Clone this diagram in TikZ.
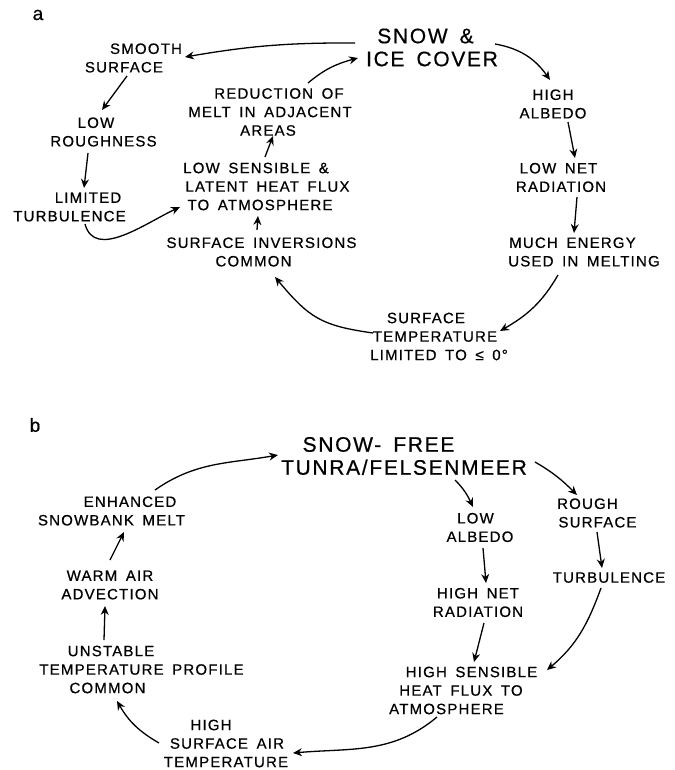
\documentclass[tikz,border=0pt]{standalone}
\usepackage{fontspec}
\setmainfont{Liberation Sans}[LetterSpace=8,WordSpace=1.6,FakeBold=0.6]
\usetikzlibrary{arrows.meta,calc}
\newcommand\sline[2]{\makebox[0pt]{\hspace*{#1}\hspace*{#1}#2}}
\tikzset{
  lbl/.style={font=\fontsize{15}{18.5}\selectfont, align=center, inner sep=0pt},
  big/.style={font=\fontsize{21}{23}\selectfont, align=center, inner sep=0pt},
  panel/.style={font=\fontsize{19}{22}\selectfont, inner sep=0pt},
  arr/.style={-{Stealth[length=9pt,width=8pt,inset=3pt]}, line width=1.3pt},
}
\begin{document}
\begin{tikzpicture}[x=1pt,y=-1pt]
\useasboundingbox (0,0) rectangle (674,770);
% ---------- panel a ----------
\node[panel] (la) at (38,15) {a};
\node[big] (snowice) at (429,47.5) {\sline{-3.5pt}{SNOW \&}\\\sline{3pt}{ICE COVER}};
\node[lbl] (smooth) at (135,58) {\sline{11pt}{SMOOTH}\\\sline{-11pt}{SURFACE}};
\node[lbl] (lowrough) at (101,132) {\sline{-5pt}{LOW}\\\sline{2.5pt}{ROUGHNESS}};
\node[lbl] (limited) at (79,207) {\sline{9pt}{LIMITED}\\\sline{-9.5pt}{TURBULENCE}};
\node[lbl] (reduction) at (271,112) {\sline{8pt}{REDUCTION OF}\\\sline{-1pt}{MELT IN ADJACENT}\\\sline{-3pt}{AREAS}};
\node[lbl] (lowsens) at (261,186.5) {\sline{-5pt}{LOW SENSIBLE \&}\\\sline{6.5pt}{LATENT HEAT FLUX}\\\sline{-1pt}{TO ATMOSPHERE}};
\node[lbl] (inversions) at (258,252) {\sline{3.5pt}{SURFACE INVERSIONS}\\\sline{-4.5pt}{COMMON}};
\node[lbl] (highalb) at (553,104) {HIGH\\ALBEDO};
\node[lbl] (lownet) at (560,177.5) {\sline{-1.5pt}{LOW NET}\\\sline{1pt}{RADIATION}};
\node[lbl] (much) at (578,252) {\sline{-5.5pt}{MUCH ENERGY}\\\sline{6pt}{USED IN MELTING}};
\node[lbl] (surftemp) at (433,336.5) {\sline{-7pt}{SURFACE}\\\sline{2pt}{TEMPERATURE}\\\sline{6pt}{LIMITED TO ≤ 0°}};

\draw[arr] ($(snowice)+(-74,-4.5)$) to[bend right=5] ($(smooth)+(50,-1)$);
\draw[arr] ($(reduction)+(37,-29)$) to[out=40,in=195] ($(snowice)+(-71,10.5)$);
\draw[arr] ($(snowice)+(66,-3.5)$) to[out=-10,in=125] ($(highalb)+(-3,-24)$);
\draw[arr] ($(highalb)+(15,18)$) -- ($(lownet)+(15,-19.5)$);
\draw[arr] ($(lownet)+(17,19.5)$) -- ($(much)+(-4,-19)$);
\draw[arr] ($(much)+(-20,23)$) to[out=240,in=30] ($(surftemp)+(67,-5.5)$);
\draw[arr] ($(surftemp)+(-60,-3.5)$) to[out=172,in=-50,looseness=1.2] ($(inversions)+(17,25)$);
\draw[arr] ($(inversions)+(-1,-22)$) -- ($(lowsens)+(-3,29.5)$);
\draw[arr] ($(lowsens)+(4,-29.5)$) -- ($(reduction)+(2,24)$);
\draw[arr] ($(smooth)+(-8,18)$) -- ($(lowrough)+(1,-22)$);
\draw[arr] ($(lowrough)+(-13,21)$) -- ($(limited)+(5,-19)$);
\draw[arr] ($(limited)+(6,17)$) to[out=-75,in=205] ($(lowsens)+(-81,20.5)$);

% ---------- panel b ----------
\node[panel] (lb) at (35,425) {b};
\node[big] (snowfree) at (392,456) {\sline{-13.5pt}{SNOW- FREE}\\\sline{12pt}{TUNRA/FELSENMEER}};
\node[lbl] (lowalb) at (478,527.5) {\sline{-2.5pt}{LOW}\\\sline{2pt}{ALBEDO}};
\node[lbl] (rough) at (593,513) {\sline{-5.5pt}{ROUGH}\\\sline{4.5pt}{SURFACE}};
\node[lbl] (turb) at (609,577.5) {TURBULENCE};
\node[lbl] (highnet) at (478,602.5) {HIGH NET\\RADIATION};
\node[lbl] (highsens) at (460,690.5) {\sline{11.5pt}{HIGH SENSIBLE}\\\sline{1pt}{HEAT FLUX TO}\\\sline{-13.5pt}{ATMOSPHERE}};
\node[lbl] (highsurf) at (221,743.5) {\sline{-10pt}{HIGH}\\\sline{6pt}{SURFACE AIR}\\\sline{5pt}{TEMPERATURE}};
\node[lbl] (unstable) at (120,669.5) {\sline{-9pt}{UNSTABLE}\\\sline{21.5pt}{TEMPERATURE PROFILE}\\\sline{-12.5pt}{COMMON}};
\node[lbl] (warm) at (110,585) {WARM AIR\\ADVECTION};
\node[lbl] (enhanced) at (121,511) {\sline{9pt}{ENHANCED}\\\sline{-9.5pt}{SNOWBANK MELT}};

\draw[arr] ($(enhanced)+(34,-21)$) to[out=35,in=190] ($(snowfree)+(-114,-1)$);
\draw[arr] ($(snowfree)+(63,24)$) to[out=-45,in=115] ($(lowalb)+(-5,-20.5)$);
\draw[arr] ($(snowfree)+(143,6)$) to[out=-30,in=135] ($(rough)+(-16,-18)$);
\draw[arr] ($(rough)+(4,19)$) -- ($(turb)+(-7,-9.5)$);
\draw[arr] ($(lowalb)+(5,20.5)$) -- ($(highnet)+(8,-19.5)$);
\draw[arr] ($(highnet)+(6,20.5)$) -- ($(highsens)+(14,-28.5)$);
\draw[arr] ($(turb)+(-8,10.5)$) to[out=250,in=40] ($(highsens)+(87,-20.5)$);
\draw[arr] ($(highsens)+(-23,26.5)$) to[out=220,in=5] ($(highsurf)+(72,9.5)$);
\draw[arr] ($(highsurf)+(-62,-0.5)$) to[out=150,in=-60] ($(unstable)+(-3,31.5)$);
\draw[arr] ($(unstable)+(-16,-29.5)$) -- ($(warm)+(-5,21)$);
\draw[arr] ($(warm)+(0,-25)$) -- ($(enhanced)+(3,21)$);
\end{tikzpicture}
\end{document}
